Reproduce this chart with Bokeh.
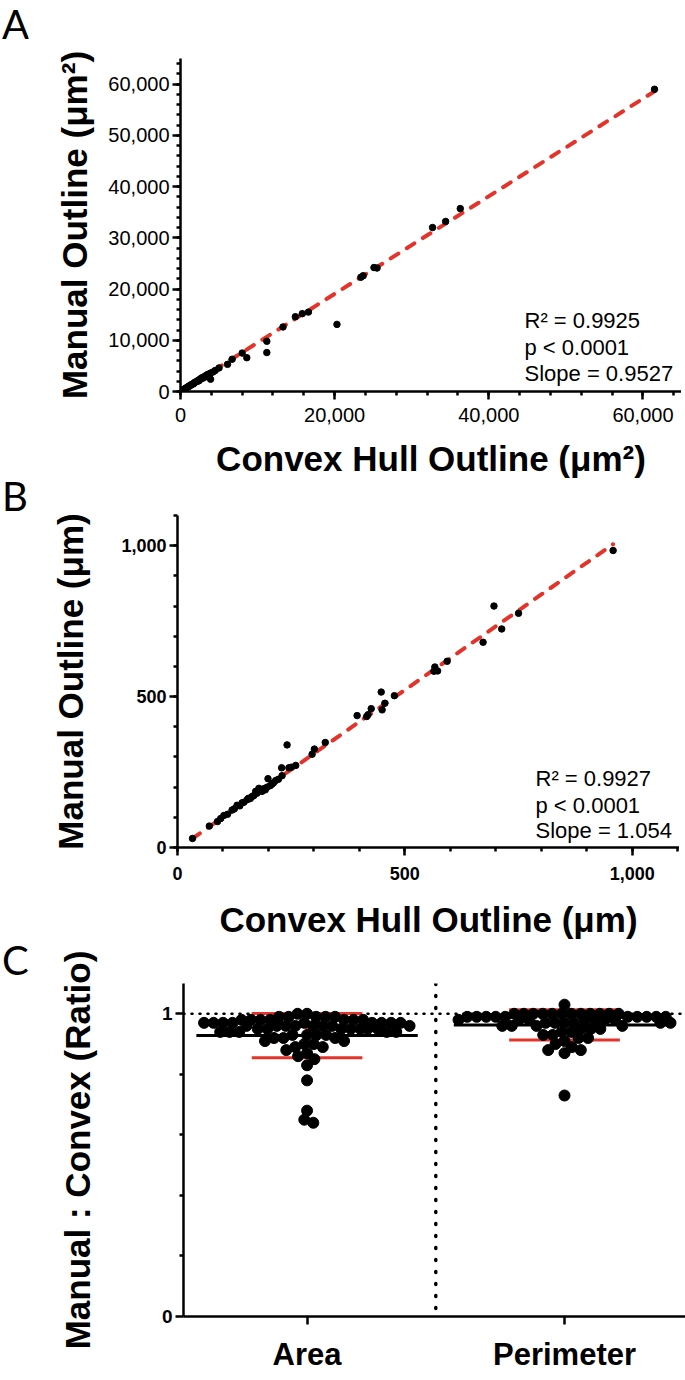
import numpy as np
from bokeh.plotting import figure
from bokeh.layouts import column, row
from bokeh.models import Range1d, FixedTicker, NumeralTickFormatter, Label, Span, Div
from bokeh.embed import file_html
from bokeh.resources import INLINE

# ---------------- data ----------------
# Panel A: area (um^2)
convex_area = [61500, 36300, 34400, 32700, 25100, 25500, 23700, 23400, 20300, 16600,
               15800, 14900, 13300, 11200, 11200, 8600, 8000, 6700, 6100, 5000,
               4500, 3900, 4200, 3900, 3700, 3500, 3400, 3300, 3100, 3000,
               2900, 2800, 2600, 2500, 2400, 2300, 2200, 2000, 1900, 1800,
               1700, 1600, 1500, 1400, 1300, 1200, 1100, 1000, 900, 800,
               700, 600, 500, 400, 300, 250, 200]
manual_area = [59000, 35700, 33200, 32000, 24200, 24100, 22600, 22300, 13100, 15500,
               15200, 14600, 12600, 9800, 7600, 6600, 7500, 6300, 5300, 4600,
               4100, 2400, 3800, 3600, 3400, 3300, 2900, 3100, 2900, 2800,
               2600, 2700, 2500, 2300, 2100, 2200, 2000, 1900, 1800, 1700,
               1500, 1500, 1400, 1300, 1200, 1150, 1000, 950, 850, 750,
               650, 560, 470, 380, 280, 230, 190]
area_slope = 0.9527
area_intercept = 0.0
area_stats = ["R\u00b2 = 0.9925", "p < 0.0001", "Slope = 0.9527"]

# Panel B: perimeter (um)
convex_perim = [33, 70, 88, 95, 102, 110, 120, 125, 131, 137,
                142, 146, 153, 156, 160, 164, 168, 172, 175, 179,
                183, 186, 190, 193, 197, 199, 204, 208, 211, 216,
                222, 229, 230, 241, 245, 250, 260, 296, 301, 325,
                395, 416, 419, 426, 448, 450, 456, 477, 564, 566,
                572, 593, 672, 696, 713, 750, 958]
manual_perim = [30, 71, 86, 96, 106, 110, 124, 128, 140, 138,
                148, 150, 158, 163, 162, 169, 172, 186, 180, 196,
                190, 186, 195, 191, 200, 228, 205, 210, 214, 222,
                226, 264, 238, 340, 264, 266, 272, 309, 326, 348,
                437, 434, 440, 460, 515, 456, 478, 503, 584, 598,
                585, 617, 680, 800, 724, 776, 984]
perim_slope = 1.054
perim_intercept = -5.0
perim_stats = ["R\u00b2 = 0.9927", "p < 0.0001", "Slope = 1.054"]

# Panel C: ratio manual : convex
categories = ["Area", "Perimeter"]
ratio_area = [0.64, 0.65, 0.68, 0.78, 0.83, 0.85, 0.86, 0.87, 0.88, 0.89, 0.89, 0.90, 0.90,
              0.91, 0.91, 0.92, 0.92, 0.92, 0.93, 0.93, 0.93, 0.93, 0.94, 0.94, 0.94, 0.94,
              0.94, 0.95, 0.95, 0.95, 0.95, 0.95, 0.95, 0.95, 0.96, 0.96, 0.96, 0.96, 0.96,
              0.96, 0.96, 0.96, 0.97, 0.97, 0.97, 0.97, 0.97, 0.97, 0.97, 0.97, 0.97, 0.98,
              0.98, 0.98, 0.98, 0.98, 0.98, 0.98, 0.99, 0.99, 0.99, 0.99, 0.99, 1.00, 1.00]
ratio_perim = [0.73, 0.87, 0.88, 0.88, 0.89, 0.90, 0.91, 0.92, 0.92, 0.93, 0.93, 0.94, 0.94,
               0.95, 0.95, 0.95, 0.96, 0.96, 0.96, 0.96, 0.97, 0.97, 0.97, 0.97, 0.97, 0.97,
               0.98, 0.98, 0.98, 0.98, 0.98, 0.98, 0.98, 0.99, 0.99, 0.99, 0.99, 0.99, 0.99,
               0.99, 0.99, 0.99, 0.99, 1.00, 1.00, 1.00, 1.00, 1.00, 1.00, 1.00, 1.00, 1.00,
               1.00, 1.00, 1.00, 1.03]
ratio_mean = [0.928, 0.963]
ratio_sd = [0.073, 0.050]

# ---------------- style ----------------
FONT = "Liberation Sans"
LETTER_FONT = "Lato"
RED = "#E2342A"
DIV_W = 28


def style(p, tick_bold=False):
    p.outline_line_color = None
    p.xgrid.visible = False
    p.ygrid.visible = False
    p.background_fill_color = "white"
    p.border_fill_color = "white"
    for ax in (p.xaxis[0], p.yaxis[0]):
        ax.axis_line_width = 2.5
        ax.axis_line_color = "black"
        ax.major_tick_line_width = 2.5
        ax.minor_tick_line_width = 2.5
        ax.major_tick_line_color = "black"
        ax.minor_tick_line_color = "black"
        ax.major_tick_in = 0
        ax.major_tick_out = 8
        ax.minor_tick_in = 0
        ax.minor_tick_out = 4
        ax.major_label_text_font = FONT
        ax.major_label_text_color = "black"
        ax.major_label_text_font_style = "bold" if tick_bold else "normal"
        ax.axis_label_text_font = FONT
        ax.axis_label_text_font_style = "bold"
        ax.axis_label_text_color = "black"
        ax.axis_label_text_font_size = "35px"


def letter(text, shift):
    return Div(text='<span style="position:relative; top:%dpx; left:2px">%s</span>' % (shift, text),
               width=DIV_W, height=50, margin=0,
               styles={"font-size": "40px", "font-family": LETTER_FONT,
                       "line-height": "normal", "color": "black"})


def add_stats(p, lines, x, ys):
    for t, yy in zip(lines, ys):
        p.add_layout(Label(x=x, y=yy, x_units="screen", y_units="screen", text=t,
                           text_font=FONT, text_font_size="22px", text_color="black",
                           text_baseline="middle"))


# ---------------- Panel A ----------------
pA = figure(frame_width=501, frame_height=333, output_backend="svg", toolbar_location=None,
            x_range=Range1d(0, 65000), y_range=Range1d(0, 65000),
            min_border_left=180 - DIV_W, min_border_right=0, min_border_top=58,
            min_border_bottom=89)
style(pA)
pA.xaxis.ticker = FixedTicker(ticks=[0, 20000, 40000, 60000],
                              minor_ticks=list(range(0, 65001, 4000)))
pA.yaxis.ticker = FixedTicker(ticks=list(range(0, 60001, 10000)),
                              minor_ticks=list(range(0, 65001, 2000)))
pA.xaxis.formatter = NumeralTickFormatter(format="0,0")
pA.yaxis.formatter = NumeralTickFormatter(format="0,0")
for ax in (pA.xaxis[0], pA.yaxis[0]):
    ax.major_label_text_font_size = "20px"
pA.xaxis.major_label_standoff = 8
pA.yaxis.major_label_standoff = 3
pA.xaxis.axis_label = "Convex Hull Outline (\u03bcm\u00b2)"
pA.yaxis.axis_label = "Manual Outline (\u03bcm\u00b2)"
pA.xaxis.axis_label_standoff = 14
pA.yaxis.axis_label_standoff = 11

xa = np.array([min(convex_area), max(convex_area)], dtype=float)
pA.line(xa, area_slope * xa + area_intercept, line_color=RED, line_width=4,
        line_dash="9 10", line_cap="round")
pA.scatter(convex_area, manual_area, size=6.5, fill_color="black", line_color="black")
add_stats(pA, area_stats, 344, [71, 44, 18])

# ---------------- Panel B ----------------
pB = figure(frame_width=502, frame_height=332, output_backend="svg", toolbar_location=None,
            x_range=Range1d(0, 1104), y_range=Range1d(0, 1100),
            min_border_left=177 - DIV_W, min_border_right=0, min_border_top=35,
            min_border_bottom=96)
style(pB, tick_bold=True)
pB.xaxis.ticker = FixedTicker(ticks=[0, 500, 1000], minor_ticks=list(range(0, 1101, 100)))
pB.yaxis.ticker = FixedTicker(ticks=[0, 500, 1000], minor_ticks=list(range(0, 1101, 100)))
pB.xaxis.formatter = NumeralTickFormatter(format="0,0")
pB.yaxis.formatter = NumeralTickFormatter(format="0,0")
for ax in (pB.xaxis[0], pB.yaxis[0]):
    ax.major_label_text_font_size = "18px"
pB.xaxis.major_label_standoff = 11
pB.yaxis.major_label_standoff = 3
pB.xaxis.axis_label = "Convex Hull Outline (\u03bcm)"
pB.yaxis.axis_label = "Manual Outline (\u03bcm)"
pB.xaxis.axis_label_standoff = 17
pB.yaxis.axis_label_standoff = 28

xb = np.array([min(convex_perim), max(convex_perim)], dtype=float)
pB.line(xb, perim_slope * xb + perim_intercept, line_color=RED, line_width=4,
        line_dash="9 10", line_cap="round")
pB.scatter(convex_perim, manual_perim, size=6.5, fill_color="black", line_color="black")
add_stats(pB, perim_stats, 358, [69, 42, 17])

# ---------------- Panel C ----------------
C_XR = (0.02, 1.97)
C_YR = (0.0, 1.1)
C_FW, C_FH = 502, 333
pC = figure(frame_width=C_FW, frame_height=C_FH, output_backend="svg", toolbar_location=None,
            x_range=Range1d(*C_XR), y_range=Range1d(*C_YR),
            min_border_left=183 - DIV_W, min_border_right=0, min_border_top=40,
            min_border_bottom=54)
style(pC, tick_bold=True)
cat_x = [i + 0.5 for i in range(len(categories))]
pC.xaxis.ticker = FixedTicker(ticks=cat_x)
pC.xaxis.major_label_overrides = {cx: c for cx, c in zip(cat_x, categories)}
pC.xaxis.major_label_text_font_size = "31px"
pC.xaxis.major_label_standoff = 12
pC.yaxis.ticker = FixedTicker(ticks=[0, 1], minor_ticks=[0.2, 0.4, 0.6, 0.8])
pC.yaxis.major_label_text_font_size = "19px"
pC.yaxis.major_label_standoff = 3
pC.yaxis.axis_label = "Manual : Convex (Ratio)"
pC.yaxis.axis_label_standoff = 62

pC.add_layout(Span(location=1, dimension="width", line_color="black", line_width=2.5,
                   line_dash="1 7", line_cap="round", level="underlay"))
pC.add_layout(Span(location=1, dimension="height", line_color="black", line_width=3.5,
                   line_dash="1 11", line_cap="round", level="underlay"))

px_x = C_FW / (C_XR[1] - C_XR[0])
px_y = C_FH / (C_YR[1] - C_YR[0])


def swarm(values, diam=9.5, max_half=106):
    vals = np.asarray(values, dtype=float)
    order = np.argsort(-vals, kind="stable")
    placed = []
    offs = np.zeros(len(vals))
    for i in order:
        y = vals[i] * px_y
        cands = [0.0]
        for xj, yj in placed:
            dy = abs(y - yj)
            if dy < diam:
                dx = np.sqrt(diam ** 2 - dy ** 2)
                cands += [xj - dx, xj + dx]
        cands = sorted(set(cands), key=lambda c: (abs(c), c))
        chosen = None
        for c in cands:
            if abs(c) > max_half:
                continue
            if all((c - xj) ** 2 + (y - yj) ** 2 >= diam ** 2 - 1e-6 for xj, yj in placed):
                chosen = c
                break
        if chosen is None:
            grid = np.linspace(-max_half, max_half, 43)
            chosen = max(grid, key=lambda c: min((c - xj) ** 2 + (y - yj) ** 2 for xj, yj in placed))
        placed.append((chosen, y))
        offs[i] = chosen / px_x
    return offs


mean_half = 0.43
cap_half = 0.215
pC.segment(x0=[c - mean_half for c in cat_x], x1=[c + mean_half for c in cat_x],
           y0=ratio_mean, y1=ratio_mean, line_color="black", line_width=3)
lo = [m - s for m, s in zip(ratio_mean, ratio_sd)]
hi = [m + s for m, s in zip(ratio_mean, ratio_sd)]
pC.segment(x0=cat_x, x1=cat_x, y0=lo, y1=hi, line_color=RED, line_width=3)
pC.segment(x0=[c - cap_half for c in cat_x], x1=[c + cap_half for c in cat_x],
           y0=lo, y1=lo, line_color=RED, line_width=3)
pC.segment(x0=[c - cap_half for c in cat_x], x1=[c + cap_half for c in cat_x],
           y0=hi, y1=hi, line_color=RED, line_width=3)

for cx, vals in zip(cat_x, [ratio_area, ratio_perim]):
    xs = cx + swarm(vals)
    pC.scatter(xs, vals, size=11, fill_color="black", line_color="black")

layout = column(row(letter("A", 0), pA, spacing=0),
                row(letter("B", -8), pB, spacing=0),
                row(letter("C", -7), pC, spacing=0),
                spacing=0)
open("out.html", "w").write(file_html(layout, INLINE))
